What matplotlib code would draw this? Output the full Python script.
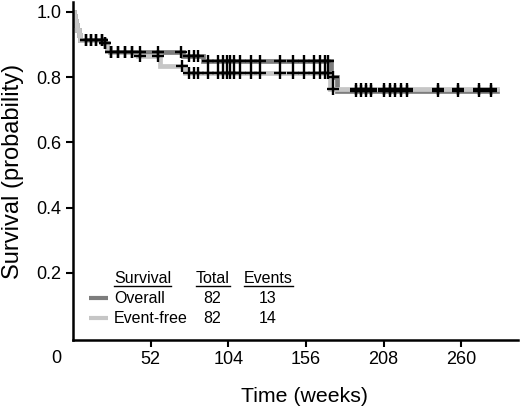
import numpy as np
import matplotlib
matplotlib.use("Agg")
import matplotlib.pyplot as plt
from matplotlib.lines import Line2D

plt.rcParams['font.family'] = ['Liberation Sans', 'DejaVu Sans']

# Kaplan-Meier steps (weeks, probability)
overall_t = [0, 0.7, 1.4, 2.1, 2.9, 3.8, 5.0, 20.5, 23.0, 24.5, 73.5, 87.0, 172.5, 177.0]
overall_s = [1.0, 0.986, 0.972, 0.958, 0.943, 0.929, 0.915, 0.903, 0.890, 0.878, 0.866, 0.849, 0.800, 0.757]
eventfree_t = [0, 0.7, 1.4, 2.1, 2.9, 3.8, 5.0, 20.5, 23.0, 24.5, 43.5, 58.0, 74.8, 172.0]
eventfree_s = [1.0, 0.986, 0.972, 0.958, 0.943, 0.929, 0.915, 0.903, 0.890, 0.878, 0.866, 0.833, 0.812, 0.763]
end_time = 284

# censored observations
censor_both = [8.5, 12, 15.5, 19.5, 21.7, 25.7, 30.1, 34.6, 39.8, 45.1, 56.9,
               78, 81, 84, 90.4, 97, 100.4, 103, 105.4, 107.6, 111.6, 119.4, 125,
               138.3, 147.2, 154.5, 161.7, 165.5, 168.5, 170.7, 174,
               189.7, 193, 196.4, 199.7, 208.6, 212, 215.3, 219.8, 223.6,
               244.3, 257.7, 272.2, 280]
censor_overall = [72.6]
censor_eventfree = [72.8]

groups = ['Overall', 'Event-free']
totals = [82, 82]
events = [13, 14]
colors = ['#7d7d7d', '#c6c6c6']


def step_at(t, s, x):
    idx = np.searchsorted(t, x, side='right') - 1
    return np.asarray(s)[idx]


fig = plt.figure(figsize=(5.2, 4.12), dpi=100)
ax = fig.add_axes([73 / 520, 72 / 412, 445 / 520, 338 / 412])

curves = [(overall_t, overall_s, censor_both + censor_overall),
          (eventfree_t, eventfree_s, censor_both + censor_eventfree)]
for (t, s, cens), col in zip(curves, colors):
    tt = list(t) + [end_time]
    ss = list(s) + [s[-1]]
    ax.step(tt, ss, where='post', color=col, lw=3.4, solid_joinstyle='miter', zorder=2)
for (t, s, cens), col in zip(curves, colors):
    cens = np.sort(cens)
    ax.plot(cens, step_at(t, s, cens), ls='none', marker='+', ms=8, mew=1.7,
            color='black', zorder=3)

ax.set_xlim(0, 298)
ax.set_ylim(-0.006, 1.03)
ax.set_xticks([52, 104, 156, 208, 260])
ax.set_yticks([0.2, 0.4, 0.6, 0.8, 1.0])
ax.set_yticklabels(['0.2', '0.4', '0.6', '0.8', '1.0'])
ax.tick_params(labelsize=13, width=1.5, length=5, direction='out', color='black')
ax.tick_params(axis='x', pad=3)
for side in ['top', 'right']:
    ax.spines[side].set_visible(False)
for side in ['left', 'bottom']:
    ax.spines[side].set_linewidth(1.8)
ax.annotate('0', xy=(0, 0), xycoords='data', xytext=(-12, -15),
            textcoords='offset points', ha='center', va='center', fontsize=13)

ax.set_ylabel('Survival (probability)', fontsize=17)
ax.set_xlabel('Time (weeks)', fontsize=15.3)
ax.yaxis.set_label_coords(-0.11, 0.5)
ax.xaxis.set_label_coords(0.52, -0.138)

# table legend
fs = 11.5
hy, rows_y = 0.181, [0.124, 0.065]
headers = [('Survival', 0.092, 'left'), ('Total', 0.276, 'left'), ('Events', 0.384, 'left')]
htexts = [ax.text(x, hy, h, transform=ax.transAxes, fontsize=fs, ha=ha, va='center')
          for h, x, ha in headers]
for g, tot, ev, col, y in zip(groups, totals, events, colors, rows_y):
    ax.plot([0.036, 0.078], [y, y], transform=ax.transAxes, color=col, lw=3,
            solid_capstyle='butt')
    ax.text(0.092, y, g, transform=ax.transAxes, fontsize=fs, va='center')
    ax.text(0.313, y, str(tot), transform=ax.transAxes, fontsize=fs, va='center', ha='center')
    ax.text(0.437, y, str(ev), transform=ax.transAxes, fontsize=fs, va='center', ha='center')

fig.canvas.draw()
r = fig.canvas.get_renderer()
inv = fig.transFigure.inverted()
for tx in htexts:
    bb = tx.get_window_extent(r)
    (x0, y0), (x1, _) = inv.transform([(bb.x0, bb.y0), (bb.x1, bb.y0)])
    fig.add_artist(Line2D([x0, x1], [y0, y0], color='black', lw=1.0))

fig.savefig('out.png', dpi=100)
